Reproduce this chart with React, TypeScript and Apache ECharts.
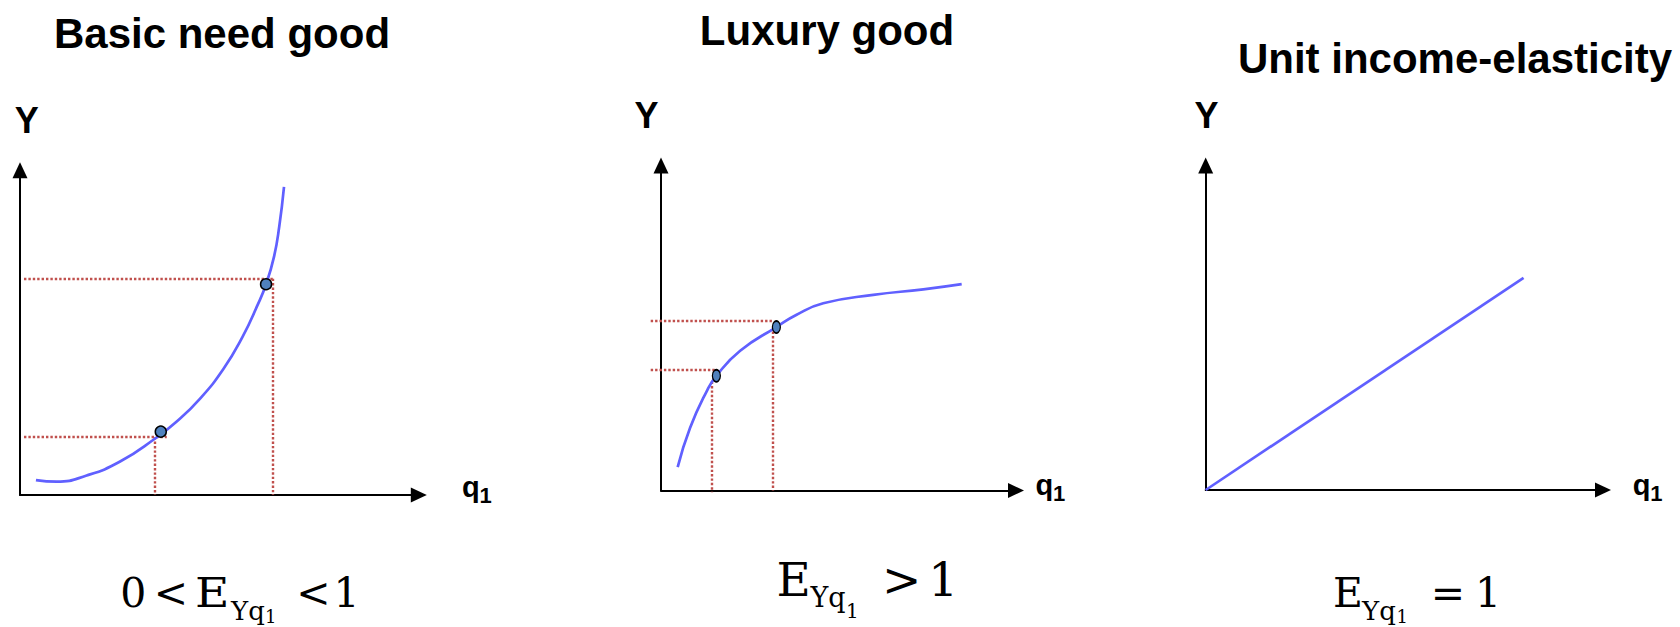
import React, { useEffect, useRef } from "react";
import * as echarts from "echarts";

// Panel titles and axis names
const panelTitles = ["Basic need good", "Luxury good", "Unit income-elasticity"];
const yAxisName = "Y";
const xAxisName = "q";
const xAxisSub = "1";

// Engel curve of a basic need good: [q1, Y] on a 0–100 scale
const basicCurve: [number, number][] = [
  [4.0, 4.6], [9.2, 4.1], [16.7, 6.0], [25.1, 10.3], [33.9, 17.4], [39.3, 22.6],
  [45.1, 29.6], [51.0, 38.8], [55.8, 48.7], [59.5, 58.3], [61.7, 64.9],
  [63.7, 73.4], [65.0, 82.6], [66.2, 94.9],
];
const basicPoints: [number, number][] = [[35.3, 19.5], [61.7, 64.9]];
const basicGuides: [number, number][][] = [
  [[1.0, 17.8], [36.8, 17.8]],
  [[33.7, 17.8], [33.7, 0]],
  [[1.0, 66.6], [63.5, 66.6]],
  [[63.3, 66.6], [63.3, 0]],
];

// Engel curve of a luxury good
const luxuryCurve: [number, number][] = [
  [4.7, 7.2], [8.2, 19.3], [12.9, 30.6], [15.6, 35.3], [22.3, 43.0],
  [32.5, 50.3], [38.2, 54.1], [45.7, 57.6], [59.8, 60.2], [73.9, 61.9], [84.7, 63.5],
];
const luxuryPoints: [number, number][] = [[15.6, 35.3], [32.5, 50.3]];
const luxuryGuides: [number, number][][] = [
  [[-2.9, 37.1], [15.7, 37.1]],
  [[14.4, 33.5], [14.4, -0.5]],
  [[-2.9, 52.1], [31.6, 52.1]],
  [[31.4, 48.9], [31.4, 0]],
];

// Unit income-elasticity: a ray through the origin
const unitLine: [number, number][] = [[0, 0], [80.0, 65.4]];

// Formula pieces: main text, subscript, sub-subscript, relation
const formulaLead = ["0", "<"];
const formulaE = "E";
const formulaSub = "Yq";
const formulaSubSub = "1";
const formulaTails = [["<", "1"], [">", "1"], ["=", "1"]];

const SANS = '"Liberation Sans", Arial, Helvetica, sans-serif';
const SERIF = '"DejaVu Serif", "Liberation Serif", serif';
const CURVE = "#6060FF";
const GUIDE = "#C0504D";
const DOT = "#4F81BD";

type TOpts = { bold?: boolean; serif?: boolean; align?: string; scaleX?: number };

// Text placed by its alphabetic baseline
function label(text: string, x: number, baseline: number, size: number, o: TOpts = {}) {
  const central = o.serif ? 0.346 : 0.3465;
  const align = o.align || "left";
  return {
    type: "text",
    x,
    y: baseline - central * size,
    scaleX: o.scaleX ?? 1,
    silent: true,
    style: {
      text,
      x: 0,
      y: 0,
      fill: "#000",
      fontSize: size,
      fontWeight: o.bold ? "bold" : "normal",
      fontFamily: o.serif ? SERIF : SANS,
      align,
      textAlign: align,
      verticalAlign: "middle",
      textVerticalAlign: "middle",
    },
  };
}

const grids = [
  { left: 20, top: 170.2, width: 398.8, height: 324.8 },
  { left: 661, top: 165.5, width: 355, height: 325 },
  { left: 1205.7, top: 165.5, width: 397.3, height: 324.5 },
];

function axis(i: number) {
  return {
    type: "value",
    gridIndex: i,
    min: 0,
    max: 100,
    axisLine: {
      show: true,
      onZero: false,
      symbol: ["none", "triangle"],
      symbolSize: [15, 16],
      lineStyle: { color: "#000", width: 2 },
    },
    axisTick: { show: false },
    axisLabel: { show: false },
    splitLine: { show: false },
  };
}

function curveSeries(i: number, data: [number, number][], smooth: number | boolean) {
  return {
    type: "line",
    xAxisIndex: i,
    yAxisIndex: i,
    data,
    smooth,
    symbol: "none",
    lineStyle: { color: CURVE, width: 2.7 },
    z: 3,
  };
}

function guideSeries(i: number, segs: [number, number][][]) {
  return {
    type: "lines",
    coordinateSystem: "cartesian2d",
    xAxisIndex: i,
    yAxisIndex: i,
    clip: false,
    data: segs.map((coords) => ({ coords })),
    lineStyle: { color: GUIDE, width: 2.4, type: [2.4, 2], opacity: 1 },
    z: 2,
  };
}

function pointSeries(i: number, data: [number, number][], size: number | number[]) {
  return {
    type: "scatter",
    xAxisIndex: i,
    yAxisIndex: i,
    data,
    symbol: "circle",
    symbolSize: size,
    itemStyle: { color: DOT, borderColor: "#000", borderWidth: 1.5, opacity: 1 },
    z: 4,
  };
}

function buildGraphics() {
  const g: any[] = [];
  // titles
  g.push(label(panelTitles[0], 222, 48.3, 42, { bold: true, align: "center" }));
  g.push(label(panelTitles[1], 827, 45, 42, { bold: true, align: "center" }));
  g.push(label(panelTitles[2], 1455, 73.3, 42, { bold: true, align: "center" }));
  // Y axis names
  g.push(label(yAxisName, 26.8, 132.7, 36, { bold: true, align: "center" }));
  g.push(label(yAxisName, 646.5, 128.3, 36, { bold: true, align: "center" }));
  g.push(label(yAxisName, 1206.5, 128.3, 36, { bold: true, align: "center" }));
  // q1 axis names
  const qPos = [
    [462, 497, 503.3],
    [1035.5, 495, 501],
    [1632.7, 495, 501],
  ];
  qPos.forEach(([qx, qb, sb]) => {
    g.push(label(xAxisName, qx, qb, 29, { bold: true }));
    g.push(label(xAxisSub, qx + 17.5, sb, 22, { bold: true }));
  });

  // 0 < E_{Yq1} < 1
  g.push(label(formulaLead[0], 133.3, 606.7, 41, { serif: true, align: "center" }));
  g.push(label(formulaLead[1], 171, 606.7, 41, { serif: true, align: "center" }));
  g.push(label(formulaE, 195, 606.7, 41, { serif: true, scaleX: 1.15 }));
  g.push(label(formulaSub, 231, 619.5, 26, { serif: true }));
  g.push(label(formulaSubSub, 265, 622.5, 18, { serif: true }));
  g.push(label(formulaTails[0][0], 313.5, 606.7, 41, { serif: true, align: "center" }));
  g.push(label(formulaTails[0][1], 346.5, 606.7, 41, { serif: true, align: "center" }));

  // E_{Yq1} > 1
  g.push(label(formulaE, 776.5, 596, 47, { serif: true }));
  g.push(label(formulaSub, 810.5, 606.7, 27, { serif: true }));
  g.push(label(formulaSubSub, 846, 618, 20, { serif: true }));
  g.push(label(formulaTails[1][0], 901.7, 596, 47, { serif: true, align: "center" }));
  g.push(label(formulaTails[1][1], 943.3, 596, 47, { serif: true, align: "center" }));

  // E_{Yq1} = 1
  g.push(label(formulaE, 1333, 607, 41, { serif: true }));
  g.push(label(formulaSub, 1362, 619.5, 26, { serif: true }));
  g.push(label(formulaSubSub, 1396.5, 622.5, 18, { serif: true }));
  g.push(label(formulaTails[2][0], 1448, 607, 41, { serif: true, align: "center" }));
  g.push(label(formulaTails[2][1], 1488, 607, 41, { serif: true, align: "center" }));
  return g;
}

export default function App() {
  const ref = useRef<HTMLDivElement>(null);
  useEffect(() => {
    if (!ref.current) return;
    const chart = echarts.init(ref.current, undefined, { renderer: "svg" });
    chart.setOption({
      animation: false,
      backgroundColor: "#fff",
      grid: grids.map((g) => ({ ...g, containLabel: false })),
      xAxis: [0, 1, 2].map(axis),
      yAxis: [0, 1, 2].map(axis),
      series: [
        guideSeries(0, basicGuides),
        curveSeries(0, basicCurve, 0.5),
        pointSeries(0, basicPoints, 11),
        guideSeries(1, luxuryGuides),
        curveSeries(1, luxuryCurve, 0.5),
        pointSeries(1, luxuryPoints, [8, 12]),
        curveSeries(2, unitLine, false),
      ],
      graphic: { elements: buildGraphics() },
    });
    return () => chart.dispose();
  }, []);
  return (
    <div
      ref={ref}
      style={{ position: "absolute", left: 0, top: 0, width: 1680, height: 627 }}
    />
  );
}
